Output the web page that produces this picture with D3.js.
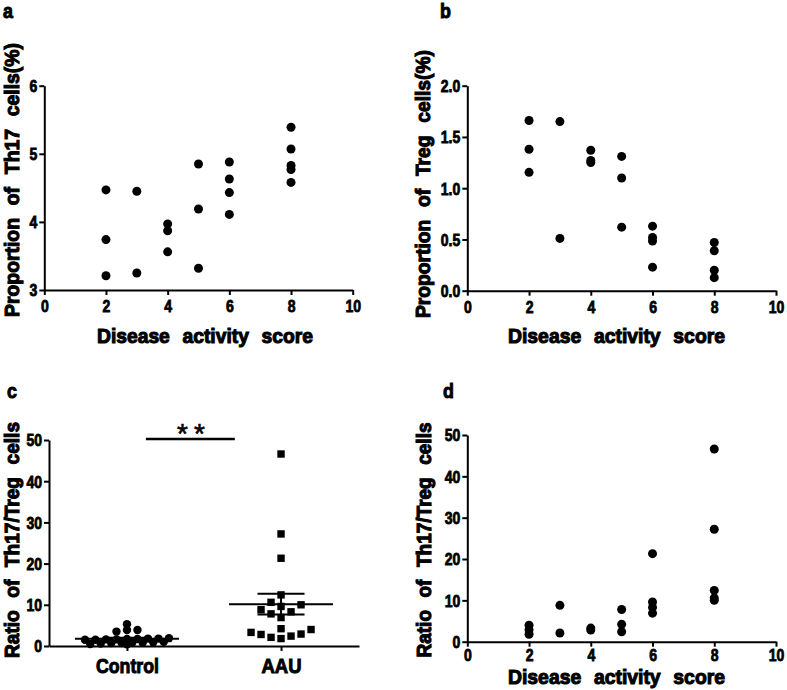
<!DOCTYPE html>
<html><head><meta charset="utf-8">
<script src="https://cdn.jsdelivr.net/npm/d3@7"></script>
<style>
html,body{margin:0;padding:0;background:#fff;}
svg{display:block;}
text{font-family:"Liberation Sans",Arial,sans-serif;fill:#000;}
</style></head>
<body>
<svg id="chart" width="787" height="690"></svg>
<script>
// ---------- data ----------
const scoreA = [2,2,2,3,3,4,4,4,5,5,5,6,6,6,6,8,8,8,8,8];
const th17   = [4.47,3.74,3.21,4.45,3.25,3.97,3.87,3.56,4.85,4.19,3.32,4.88,4.63,4.43,4.11,5.39,5.07,4.83,4.77,4.58];
const scoreB = [2,2,2,3,3,4,4,4,5,5,5,6,6,6,6,8,8,8,8];
const treg   = [1.66,1.38,1.155,1.65,0.51,1.37,1.27,1.25,1.31,1.10,0.62,0.63,0.52,0.485,0.23,0.47,0.39,0.20,0.127];
const scoreD = [2,2,2,3,3,4,4,5,5,5,6,6,6,6,8,8,8,8,8];
const ratio  = [4.0,2.9,1.8,8.8,2.1,3.3,2.8,7.8,4.2,2.4,21.3,9.6,8.3,6.9,46.6,27.2,12.4,10.6,10.0];
const groups = ["Control","AAU"];
const controlRatio = [5.3,3.9,3.5,3.9,1.9,1.8,1.8,1.7,1.7,1.6,1.6,1.5,1.5,1.0,0.9,0.8,0.8,0.7,0.7,0.6,0.5,0.4];
const aauRatio = ratio;
const xTicks = [0,2,4,6,8,10];
const yTicksA = [3,4,5,6];
const yTicksB = [0,0.5,1.0,1.5,2.0];
const yTicksCD = [0,10,20,30,40,50];

const svg = d3.select("#chart");
const TICKFONT = 16.5, CX = 0.85;

function styleAxis(g){
  g.selectAll("path.domain").attr("stroke","#000").attr("stroke-width",2);
  g.selectAll(".tick line").attr("stroke","#000").attr("stroke-width",2);
  g.selectAll(".tick text")
    .style("font-size",TICKFONT+"px").style("font-weight","bold")
    .style("font-family","'Liberation Sans',Arial,sans-serif")
    .style("fill","#000").style("stroke","#000").style("stroke-width","0.8px");
}
function xAxisNum(x, y0, labelY){
  const g = svg.append("g").attr("transform",`translate(0,${y0})`)
    .call(d3.axisBottom(x).tickValues(xTicks).tickSize(5).tickSizeOuter(0).tickFormat(d3.format("d")));
  styleAxis(g);
  g.selectAll(".tick text").attr("y",0).attr("dy",0)
    .attr("transform",`translate(0,${labelY}) scale(${CX},1)`);
  return g;
}
function yAxis(y, x0, ticks, fmt){
  const g = svg.append("g").attr("transform",`translate(${x0},0)`)
    .call(d3.axisLeft(y).tickValues(ticks).tickSize(5).tickSizeOuter(0).tickFormat(fmt));
  styleAxis(g);
  g.selectAll(".tick text").attr("x",0).attr("dy","0.36em")
    .attr("transform",`translate(-7,0) scale(${CX},1)`);
  return g;
}
function title(txt, x, y, len, rotate){
  const t = svg.append("text").text(txt)
    .style("font-size","21px").style("font-weight","bold")
    .style("stroke","#000").style("stroke-width","1.1px")
    .attr("text-anchor","middle")
    .attr("textLength",len).attr("lengthAdjust","spacingAndGlyphs")
    .style("word-spacing","8px");
  if(rotate) t.attr("transform",`translate(${x},${y}) rotate(-90)`);
  else t.attr("x",x).attr("y",y);
  return t;
}
function letter(txt,x,y){
  svg.append("text").text(txt).attr("x",x).attr("y",y)
    .style("font-size","21px").style("font-weight","bold")
    .style("stroke","#000").style("stroke-width","1px")
    .attr("transform",`translate(${x},0) scale(0.85,1) translate(${-x},0)`);
}
function dots(x,y,xs,ys){
  svg.append("g").selectAll("circle").data(ys).join("circle")
    .attr("cx",(d,i)=>x(xs[i])).attr("cy",d=>y(d)).attr("r",4.5).attr("fill","#000");
}

// ---------- panel a ----------
const xa = d3.scaleLinear().domain([0,10]).range([44.3,352.7]);
const ya = d3.scaleLinear().domain([3,6]).range([290,85.7]);
xAxisNum(xa,290,22);
yAxis(ya,44.3,yTicksA,d3.format("d"));
dots(xa,ya,scoreA,th17);
title("Disease activity score",205,343,216,false);
title("Proportion of Th17 cells(%)",19,180,274,true);
letter("a",3,18);

// ---------- panel b ----------
const xb = d3.scaleLinear().domain([0,10]).range([467.3,776]);
const yb = d3.scaleLinear().domain([0,2]).range([290.7,85.7]);
xAxisNum(xb,290.7,22);
yAxis(yb,467.3,yTicksB,d3.format(".1f"));
dots(xb,yb,scoreB,treg);
title("Disease activity score",616.5,343,217,false);
title("Proportion of Treg cells(%)",430,184,268,true);
letter("b",440,18);

// ---------- panel c ----------
const xc = d3.scalePoint().domain(groups).range([49,359]).padding(0.506);
const yc = d3.scaleLinear().domain([0,50]).range([646,440]);
{
  const g = svg.append("g").attr("transform","translate(0,646)")
    .call(d3.axisBottom(xc).tickSize(5).tickSizeOuter(0));
  styleAxis(g);
  g.selectAll(".tick text").attr("y",27).attr("dy",0).style("font-size","21px")
    .style("stroke-width","1px")
    .attr("textLength",d=>d==="Control"?63:40).attr("lengthAdjust","spacingAndGlyphs");
}
yAxis(yc,49,yTicksCD,d3.format("d"));

// row-binned column scatter (GraphPad style)
function rowSwarm(values, cx, y, bin, spacing){
  const rows = d3.group(values, v=>Math.round(v/bin));
  const out = [];
  rows.forEach(vs=>{
    vs.slice().sort((a,b)=>a-b).forEach((v,i)=>{
      out.push({v, y:y(v), x: cx + (i-(vs.length-1)/2)*spacing});
    });
  });
  return out;
}
function swarm(values, cx, y, d){
  const pts = values.map(v=>({v, y:y(v)})).sort((a,b)=>a.v-b.v);
  const placed = [];
  pts.forEach(p=>{
    for(let k=0;k<400;k++){
      const off = (k%2===0?1:-1)*Math.ceil(k/2)*0.5;
      const x = cx+off;
      const ok = placed.every(q=>Math.abs(q.x-x)>=d||Math.abs(q.y-p.y)>=d);
      if(ok){p.x=x;placed.push(p);break;}
    }
  });
  return placed;
}
const ctrlPts = rowSwarm(controlRatio, xc("Control"), yc, 1.0, 10.5);
const aauPts = swarm(aauRatio, xc("AAU"), yc, 9.6);
svg.append("g").selectAll("circle").data(ctrlPts).join("circle")
  .attr("cx",d=>d.x).attr("cy",d=>d.y).attr("r",4.2).attr("fill","#000");
svg.append("g").selectAll("rect").data(aauPts).join("rect")
  .attr("x",d=>d.x-3.7).attr("y",d=>d.y-3.7).attr("width",7.4).attr("height",7.4).attr("fill","#000");

function meanSem(vals, cx){
  const m = d3.mean(vals), sem = d3.deviation(vals)/Math.sqrt(vals.length);
  const g = svg.append("g").attr("stroke","#000").attr("stroke-width",2);
  g.append("line").attr("x1",cx-52).attr("x2",cx+52).attr("y1",yc(m)).attr("y2",yc(m));
  g.append("line").attr("x1",cx).attr("x2",cx).attr("y1",yc(m-sem)).attr("y2",yc(m+sem));
  [m-sem,m+sem].forEach(v=>g.append("line").attr("x1",cx-23.5).attr("x2",cx+23.5).attr("y1",yc(v)).attr("y2",yc(v)));
}
meanSem(controlRatio, xc("Control"));
meanSem(aauRatio, xc("AAU"));
{
  const x0 = xc("Control"), x1 = xc("AAU");
  svg.append("line").attr("x1",x0+(x1-x0)*0.123).attr("x2",x0+(x1-x0)*0.70)
    .attr("y1",yc(50)-1).attr("y2",yc(50)-1).attr("stroke","#000").attr("stroke-width",2.5);
  svg.append("text").text("**").attr("x",x0+(x1-x0)*0.415+3).attr("y",443)
    .attr("text-anchor","middle").style("font-size","28px").attr("letter-spacing","6px")
    .style("stroke","#000").style("stroke-width","0.6px");
}
title("Ratio of Th17/Treg cells",19,540,236,true);
letter("c",7,398);

// ---------- panel d ----------
const xd = d3.scaleLinear().domain([0,10]).range([467.3,776]);
const yd = d3.scaleLinear().domain([0,50]).range([641.7,435]);
xAxisNum(xd,641.7,19);
yAxis(yd,467.3,yTicksCD,d3.format("d"));
dots(xd,yd,scoreD,ratio);
title("Disease activity score",616.5,684,217,false);
title("Ratio of Th17/Treg cells",431,540,235,true);
letter("d",443,398);
</script>
</body></html>
